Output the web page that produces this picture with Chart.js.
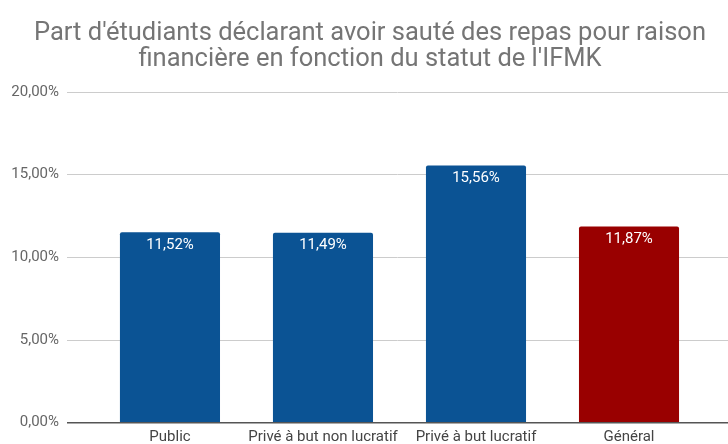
<!DOCTYPE html>
<html>
<head>
<meta charset="utf-8">
<script src="https://cdn.jsdelivr.net/npm/chart.js@4/dist/chart.umd.min.js"></script>
<style>
  html, body { margin: 0; padding: 0; background: #fff; }
  #wrap { width: 728px; height: 444px; }
</style>
</head>
<body>
<div id="wrap"><canvas id="chart"></canvas></div>
<script>
const categories = ['Public', 'Privé à but non lucratif', 'Privé à but lucratif', 'Général'];
const values = [11.52, 11.49, 15.56, 11.87];
const barColors = ['#0b5394', '#0b5394', '#0b5394', '#990000'];
const yTicks = [0, 5, 10, 15, 20];
const titleLines = [
  "Part d'étudiants déclarant avoir sauté des repas pour raison",
  "financière en fonction du statut de l'IFMK"
];

const fmt = v => v.toFixed(2).replace('.', ',') + '%';

// white value labels just under the top of each bar
const valueLabels = {
  id: 'valueLabels',
  afterDatasetsDraw(chart) {
    const ctx = chart.ctx;
    const meta = chart.getDatasetMeta(0);
    ctx.save();
    ctx.font = '15px Roboto';
    ctx.fillStyle = '#ffffff';
    ctx.textAlign = 'center';
    ctx.textBaseline = 'middle';
    meta.data.forEach((bar, i) => {
      ctx.fillText(fmt(values[i]), bar.x, bar.y + 13);
    });
    ctx.restore();
  }
};

new Chart(document.getElementById('chart'), {
  type: 'bar',
  data: {
    datasets: [{
      data: values.map((v, i) => ({ x: i, y: v })),
      backgroundColor: barColors,
      borderRadius: { topLeft: 2, topRight: 2 },
      borderSkipped: 'bottom',
      barPercentage: 0.654,
      categoryPercentage: 1
    }]
  },
  options: {
    responsive: true,
    maintainAspectRatio: false,
    animation: false,
    layout: { padding: { left: 12, right: 0, top: 0, bottom: 0 } },
    plugins: {
      legend: { display: false },
      tooltip: { enabled: false },
      title: {
        display: true,
        text: titleLines,
        color: '#757575',
        font: { family: 'Roboto', size: 25.5, weight: 'normal', lineHeight: '26px' },
        padding: { top: 21, bottom: 19 }
      }
    },
    scales: {
      x: {
        type: 'linear',
        offset: false,
        min: -0.673,
        max: 3.647,
        grid: { display: false, drawTicks: false, tickLength: 0 },
        border: { display: false },
        afterBuildTicks(scale) {
          scale.ticks = categories.map((c, i) => ({ value: i }));
        },
        afterFit(scale) { scale.height = 21.3; },
        ticks: {
          autoSkip: false,
          maxRotation: 0,
          padding: 6,
          color: '#444444',
          font: { family: 'Roboto', size: 15 },
          callback: v => categories[v]
        }
      },
      y: {
        min: 0,
        max: 20,
        afterBuildTicks(scale) {
          scale.ticks = yTicks.map(v => ({ value: v }));
        },
        afterFit(scale) { scale.width = 55; },
        grid: {
          color: ctx => ctx.tick.value === 0 ? '#555555' : '#cccccc',
          lineWidth: ctx => ctx.tick.value === 0 ? 1.5 : 1,
          drawTicks: false
        },
        border: { display: false },
        ticks: {
          padding: 8,
          color: '#666666',
          font: { family: 'Roboto', size: 15 },
          callback: v => fmt(v)
        }
      }
    }
  },
  plugins: [valueLabels]
});
</script>
</body>
</html>
